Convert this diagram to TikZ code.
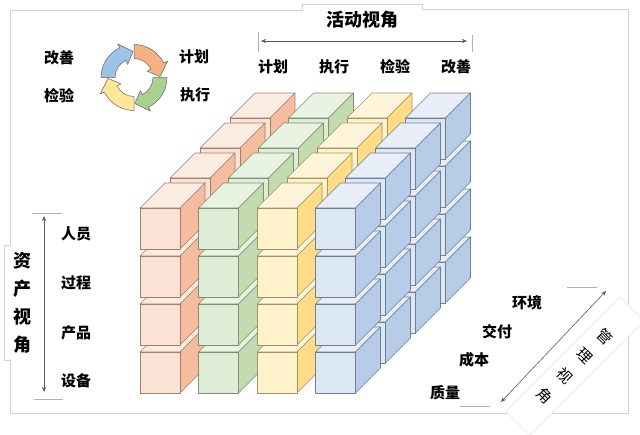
\documentclass[tikz,border=0pt]{standalone}
\usepackage{fontspec}
\setmainfont{Noto Sans CJK SC}
\usetikzlibrary{arrows.meta}
\usetikzlibrary{positioning}

% faces of the blocks: F front, T top, S side, E edge
\definecolor{planF}{HTML}{FBE2D4}
\definecolor{planT}{HTML}{FCEBE1}
\definecolor{planS}{HTML}{F5BD9E}
\definecolor{planE}{HTML}{9C8070}
\definecolor{doF}{HTML}{E0EDD6}
\definecolor{doT}{HTML}{E9F3E2}
\definecolor{doS}{HTML}{C2DCB0}
\definecolor{doE}{HTML}{7F8F73}
\definecolor{checkF}{HTML}{FFF1C9}
\definecolor{checkT}{HTML}{FFF5DA}
\definecolor{checkS}{HTML}{FEDC88}
\definecolor{checkE}{HTML}{A39466}
\definecolor{actF}{HTML}{DCE7F4}
\definecolor{actT}{HTML}{E7EEF8}
\definecolor{actS}{HTML}{B7CCE7}
\definecolor{actE}{HTML}{6E7F96}
% ring of arrows
\definecolor{cycPlan}{HTML}{F4B183}
\definecolor{cycDo}{HTML}{A9D18E}
\definecolor{cycCheck}{HTML}{FFE699}
\definecolor{cycAct}{HTML}{9DC3E6}

\newcommand{\pdcacube}[3]{%
  \draw[fill=#3T, draw=#3E, line width=0.6pt, line join=round] (#1,#2) -- ++(25,-25) -- ++(40,0) -- ++(-25,25) -- cycle;
  \draw[fill=#3S, draw=#3E, line width=0.6pt, line join=round] (#1+40,#2) -- ++(25,-25) -- ++(0,41) -- ++(-25,25) -- cycle;
  \draw[fill=#3F, draw=#3E, line width=0.6pt] (#1,#2) rectangle ++(40,41);
}

\newcommand{\cyclearrow}[2]{%
  \draw[cyclebox, fill=#2, shift={(cyc)}] (#1:33) arc[start angle=#1, end angle=#1+64, radius=33]
    -- (#1+64:37.5) -- (#1+88:26) -- (#1+64:14.5) -- (#1+64:19)
    arc[start angle=#1+64, end angle=#1, radius=19] -- cycle;
}

\begin{document}
\begin{tikzpicture}
    [x=1pt, y=-1pt,
    lbl/.style={font=\bfseries\fontsize{15}{15}\selectfont, inner sep=0pt},
    ttl/.style={font=\bfseries\fontsize{18}{18}\selectfont, inner sep=0pt},
    vttl/.style={font=\bfseries\fontsize{18}{28}\selectfont, align=center, inner sep=0pt},
    axisline/.style={draw=black!65, line width=0.6pt, {Stealth[length=5pt,width=4pt]}-{Stealth[length=5pt,width=4pt]}},
    tickline/.style={draw=black!30, line width=0.7pt},
    framebox/.style={draw=black!18, line width=0.6pt},
    cyclebox/.style={draw=black!60, line width=0.5pt, line join=round}]

    \useasboundingbox (0,0) rectangle (640,434);

    % frame
    \draw[framebox] (10,245) -- (10,10) -- (302,10) -- (302,4) -- (422,4) -- (422,9) -- (628,9)
        -- (628,413) -- (10,413) -- (10,360) -- (4,360) -- (4,245) -- cycle;

    % blocks, back to front
    \foreach \k in {3,2,1,0}{
      \foreach \c/\cn in {0/plan,1/do,2/check,3/act}{
        \foreach \r in {3,2,1,0}{
          \pgfmathsetmacro{\cx}{140+58.5*\c+30*\k}
          \pgfmathsetmacro{\cy}{208-30*\k+48*\r}
          \pdcacube{\cx}{\cy}{\cn}
        }}}

    % PDCA ring
    \coordinate (cyc) at (134,77.5);
    \cyclearrow{-90}{cycPlan}
    \cyclearrow{0}{cycDo}
    \cyclearrow{90}{cycCheck}
    \cyclearrow{180}{cycAct}

    \node[lbl] (ringAct) at (59,58) {改善};
    \node[lbl] (ringCheck) at (59,96) {检验};
    \node[lbl] (ringPlan) at (194,57) {计划};
    \node[lbl] (ringDo) at (195,95) {执行};

    % activity view
    \node[ttl] (actTitle) at (362,20) {活动视角};
    \coordinate (actL) at (261,41);
    \coordinate (actR) at (467,41);
    \draw[axisline] (actL) -- (actR);
    \draw[tickline] (258,32) -- (258,52);
    \draw[tickline] (472,35) -- (472,52);
    \node[lbl] (actPlan) at (273,67) {计划};
    \node[lbl] (actDo) at (334,67) {执行};
    \node[lbl] (actCheck) at (395,67) {检验};
    \node[lbl] (actAct) at (456,67) {改善};

    % asset view
    \node[vttl] (assetTitle) at (22,303) {资\\产\\视\\角};
    \coordinate (assetT) at (44,216);
    \coordinate (assetB) at (44,392);
    \draw[axisline] (assetT) -- (assetB);
    \draw[tickline] (32,213) -- (62,213);
    \draw[tickline] (34,399) -- (63,399);
    \node[lbl] (assetPeople) at (76,234) {人员};
    \node[lbl] (assetProcess) at (76,283) {过程};
    \node[lbl] (assetProduct) at (76,333) {产品};
    \node[lbl] (assetDevice) at (76,381) {设备};

    % management view
    \node[rotate=-45, fill=white, draw=black!10, line width=0.6pt, align=center,
        font=\fontsize{15}{28}\selectfont, minimum width=34, minimum height=162, inner sep=0pt]
        (mgmtTitle) at (575,366) {管\\理\\视\\角};
    \coordinate (mgmtB) at (501,402);
    \coordinate (mgmtT) at (606,291);
    \draw[axisline] (mgmtB) -- (mgmtT);
    \draw[tickline] (567,287) -- (597,287);
    \draw[tickline] (460,406) -- (490,406);
    \node[lbl] (mgmtEnv) at (527,303) {环境};
    \node[lbl] (mgmtDeliv) at (497,332) {交付};
    \node[lbl] (mgmtCost) at (474,360) {成本};
    \node[lbl] (mgmtQual) at (445,393) {质量};
\end{tikzpicture}
\end{document}
